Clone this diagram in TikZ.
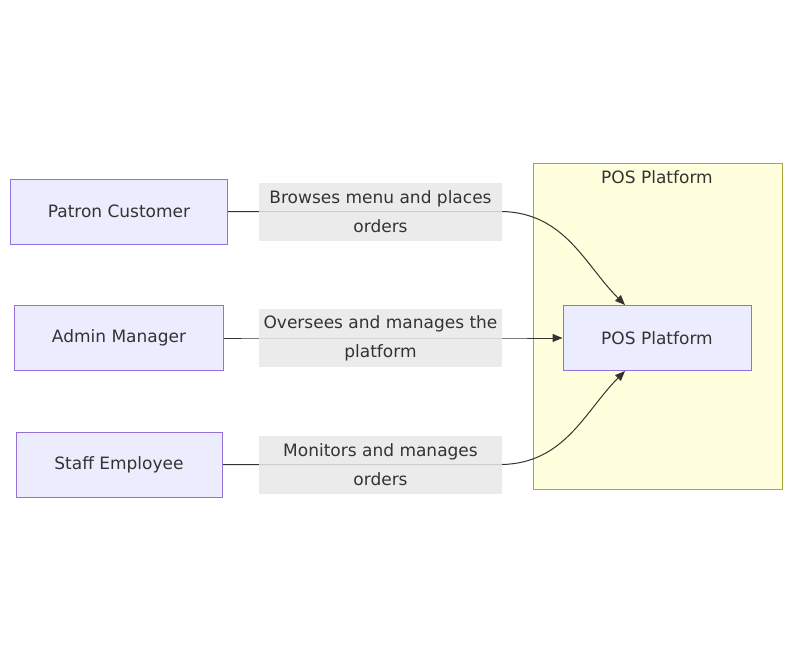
\documentclass[tikz,border=0pt]{standalone}
\usepackage{fontspec}
\setmainfont{DejaVu Sans}
\usepackage{tikz}
\usetikzlibrary{arrows.meta}
\usetikzlibrary{backgrounds}
\definecolor{boxfill}{HTML}{ECECFF}
\definecolor{boxline}{HTML}{9370DB}
\definecolor{groupfill}{HTML}{FFFFDE}
\definecolor{groupline}{HTML}{AAAA33}
\definecolor{labelfill}{HTML}{E8E8E8}
\definecolor{ink}{HTML}{333333}

\begin{document}
\begin{tikzpicture}[x=1pt, y=-1pt,
		every node/.style={text=ink, font=\fontsize{17}{29}\selectfont},
		box/.style={draw=boxline, fill=boxfill, line width=1pt, minimum width=206pt, minimum height=65pt, inner xsep=37pt},
		tag/.style={fill=labelfill, fill opacity=0.85, text opacity=1, minimum width=243pt, minimum height=58pt, inner sep=0pt, align=center},
		link/.style={draw=ink, line width=1pt},
		linkarrow/.style={link, -{Triangle[length=10pt, width=8pt]}}]
		\useasboundingbox (0, 0) rectangle (792, 661);

		\node[box] (1) at (119, 211.5) {Patron Customer};
		\node[box] (2) at (119, 338) {Admin Manager};
		\node[box] (3) at (119, 464.5) {Staff Employee};
		\node[box, minimum width=188pt] (4) at (657, 338) {POS Platform};

		\node[tag] (5) at (380.5, 211.5) {Browses menu and places\\orders};
		\node[tag] (6) at (380.5, 338) {Oversees and manages the\\platform};
		\node[tag] (7) at (380.5, 464.5) {Monitors and manages\\orders};

		\begin{pgfonlayer}{background}
			\path[draw=groupline, fill=groupfill, line width=1pt] (533, 163) rectangle (782, 489);
			\path[linkarrow] (1.east) -- (5.west) -- (5.east) .. controls (565, 213) and (585, 265) .. ([xshift=-32pt]4.north);
			\path[linkarrow] (2.east) -- (6.west) -- (6.east) -- (4.west);
			\path[linkarrow] (3.east) -- (7.west) -- (7.east) .. controls (565, 463) and (585, 411) .. ([xshift=-32pt]4.south);
		\end{pgfonlayer}

		\node (8) at (657, 177.5) {POS Platform};
	\end{tikzpicture}
\end{document}
